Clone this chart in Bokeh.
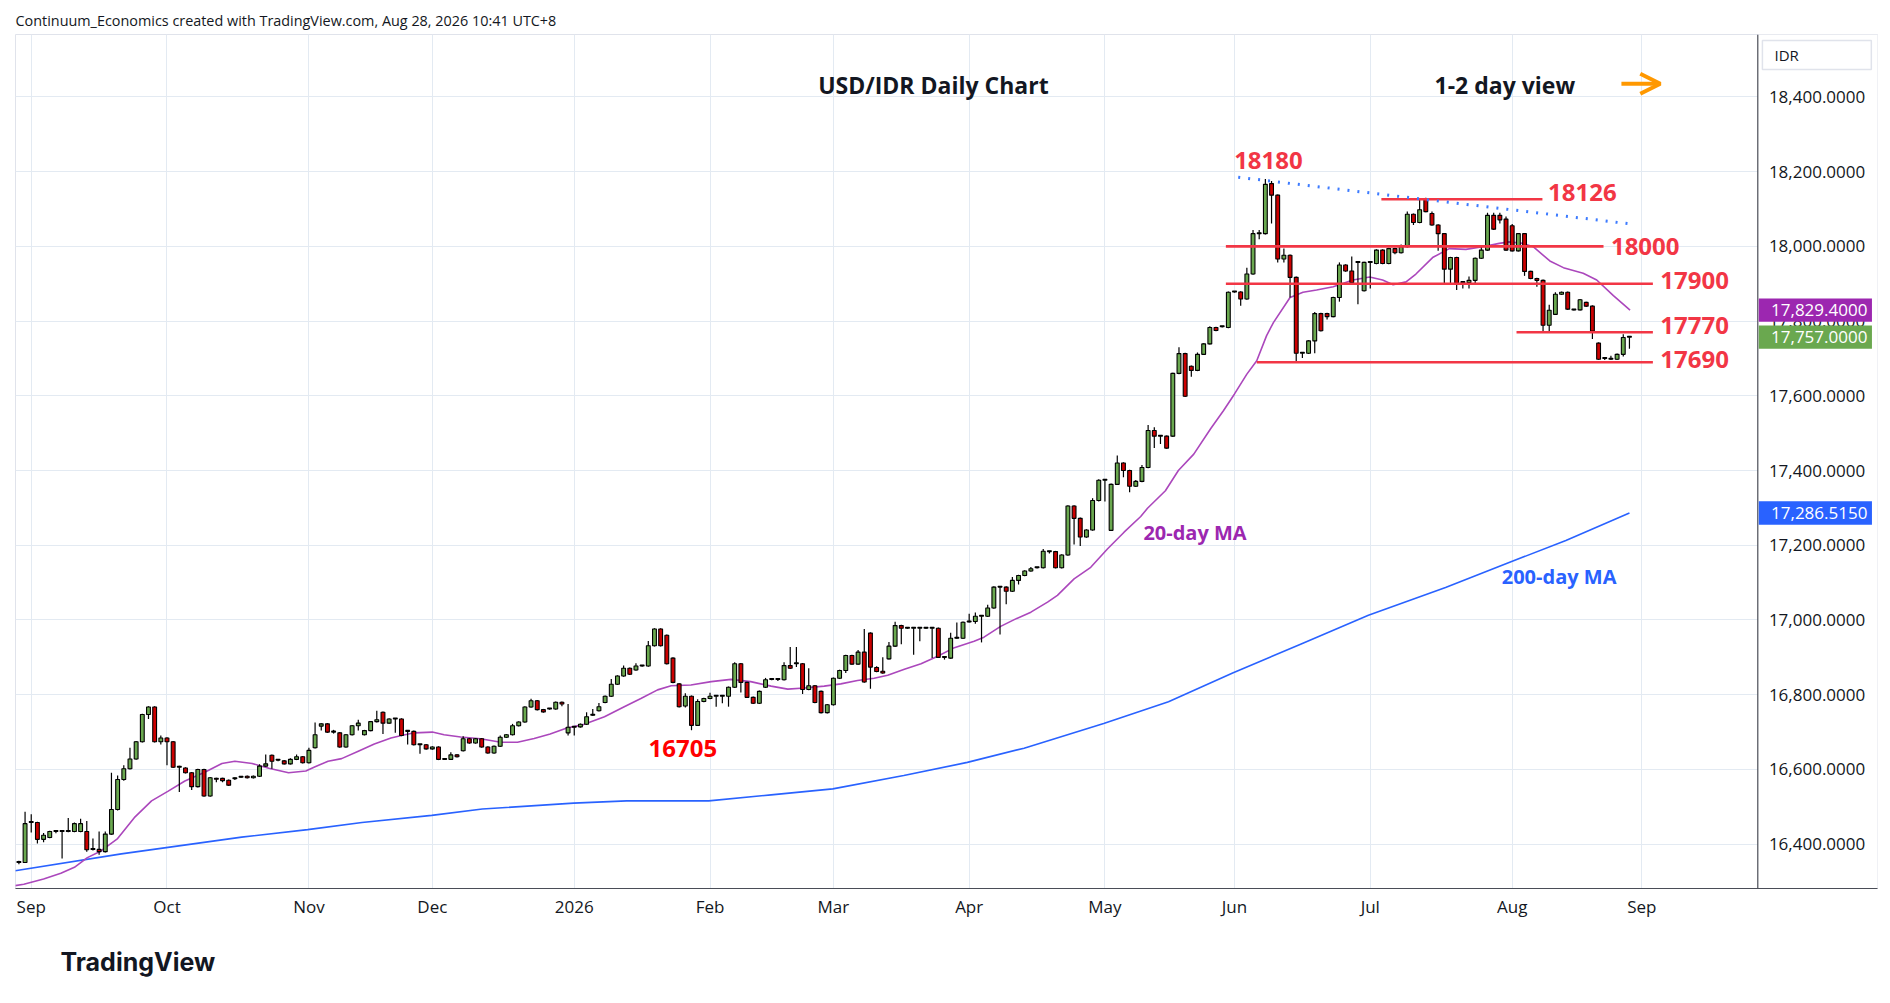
import numpy as np
import pandas as pd
from bokeh.plotting import figure
from bokeh.models import (ColumnDataSource, FixedTicker, Label, Arrow, OpenHead,
                          Title, Grid)
from bokeh.core.properties import value
from bokeh.embed import file_html
from bokeh.resources import INLINE

# ---------------- data ----------------
first_day = "2025-08-28"
opens = [16351,16351,16458,16458,16413,16418,16434,16434,16434,16434,
         16434,16434,16386,16386,16380,16427,16493,16573,16602,16628,
         16674,16747,16767,16674,16684,16674,16606,16604,16591,16554,
         16600,16529,16576,16576,16571,16575,16579,16582,16578,16582,
         16609,16638,16625,16623,16615,16627,16634,16618,16658,16716,
         16722,16700,16698,16660,16693,16717,16693,16704,16728,16753,
         16724,16735,16735,16702,16702,16666,16666,16655,16660,16627,
         16627,16639,16650,16682,16671,16682,16660,16644,16662,16686,
         16693,16717,16727,16767,16784,16760,16762,16762,16780,16698,
         16713,16714,16721,16745,16757,16779,16796,16828,16850,16871,
         16866,16877,16877,16931,16976,16959,16898,16829,16770,16796,
         16718,16782,16790,16796,16796,16796,16820,16883,16833,16793,
         16777,16820,16841,16841,16840,16878,16883,16883,16814,16824,
         16809,16752,16773,16844,16865,16905,16882,16914,16965,16873,
         16863,16896,16930,16985,16978,16978,16978,16978,16978,16978,
         16900,16898,16951,16951,16995,16996,17010,17010,17032,17088,
         17088,17077,17106,17119,17131,17140,17140,17183,17183,17140,
         17174,17305,17272,17222,17241,17320,17374,17240,17363,17420,
         17400,17358,17371,17408,17507,17492,17492,17492,17660,17713,
         17679,17668,17711,17739,17783,17785,17783,17878,17878,17859,
         17926,18034,18034,18168,18137,17966,17976,17917,17714,17714,
         17747,17820,17820,17812,17863,17950,17934,17957,17881,17957,
         17954,17990,17954,17994,17983,17999,18086,18064,18126,18088,
         18057,18034,17939,17970,17903,17903,17909,17968,17990,18083,
         18083,18073,18055,17988,18034,17933,17914,17909,17789,17818,
         17872,17877,17830,17830,17850,17840,17741,17700,17698,17698,
         17711,17757]
highs = [16356,16487,16480,16460,16430,16436,16436,16436,16470,16458,
         16468,16462,16415,16434,16434,16591,16584,16611,16658,16676,
         16749,16769,16769,16691,16686,16676,16610,16606,16593,16602,
         16602,16580,16578,16578,16573,16579,16582,16584,16584,16614,
         16640,16640,16628,16625,16630,16640,16636,16658,16726,16724,
         16724,16706,16700,16695,16719,16733,16706,16730,16757,16755,
         16737,16737,16737,16704,16704,16668,16668,16662,16662,16629,
         16646,16641,16689,16684,16684,16684,16662,16664,16691,16695,
         16722,16729,16769,16789,16786,16762,16764,16782,16782,16775,
         16716,16723,16753,16762,16778,16798,16842,16852,16878,16873,
         16884,16879,16944,16978,16978,16961,16900,16831,16804,16798,
         16788,16792,16805,16798,16798,16822,16887,16885,16835,16795,
         16811,16845,16843,16843,16887,16928,16928,16885,16871,16826,
         16811,16775,16846,16867,16907,16907,16920,16976,16967,16876,
         16900,16941,16995,16987,16980,16980,16980,16980,16980,16980,
         16902,16966,16993,16996,17017,17020,17012,17041,17090,17090,
         17090,17115,17121,17133,17142,17142,17190,17185,17185,17176,
         17307,17307,17274,17243,17326,17377,17376,17365,17440,17422,
         17402,17375,17415,17522,17516,17494,17494,17662,17730,17715,
         17681,17716,17741,17786,17785,17787,17879,17880,17880,17943,
         18044,18044,18180,18175,18139,17994,17978,17919,17716,17749,
         17824,17822,17822,17865,17957,17952,17973,17959,17959,17959,
         17992,17992,17996,17996,18005,18093,18088,18126,18130,18093,
         18059,18036,17972,17972,17905,17919,17970,17999,18090,18090,
         18090,18080,18060,18036,18036,17935,17916,17911,17844,17877,
         17879,17879,17832,17859,17852,17842,17743,17702,17707,17713,
         17765,17757]
lows = [16346,16350,16431,16402,16405,16416,16429,16362,16432,16432,
        16432,16380,16383,16372,16378,16425,16490,16570,16600,16626,
        16672,16735,16672,16667,16611,16604,16540,16589,16545,16552,
        16527,16527,16566,16566,16556,16572,16577,16576,16576,16580,
        16607,16602,16622,16613,16613,16625,16616,16616,16656,16704,
        16698,16696,16658,16658,16691,16704,16691,16702,16726,16695,
        16722,16698,16689,16667,16664,16642,16653,16653,16625,16625,
        16625,16632,16648,16669,16669,16658,16642,16642,16660,16684,
        16691,16715,16725,16765,16758,16752,16760,16760,16769,16691,
        16691,16712,16719,16743,16755,16777,16794,16826,16848,16853,
        16864,16875,16875,16929,16929,16881,16831,16766,16766,16705,
        16716,16780,16788,16768,16777,16768,16818,16806,16791,16775,
        16775,16818,16839,16837,16838,16869,16874,16802,16812,16777,
        16750,16750,16771,16842,16858,16880,16880,16832,16816,16860,
        16856,16894,16928,16935,16976,16907,16943,16976,16898,16898,
        16894,16896,16949,16949,16993,16990,16940,17008,17030,16961,
        17042,17075,17095,17117,17129,17138,17138,17178,17138,17138,
        17172,17202,17198,17220,17239,17317,17317,17238,17361,17382,
        17342,17356,17369,17406,17460,17471,17458,17490,17658,17597,
        17651,17666,17709,17737,17773,17783,17781,17876,17841,17857,
        17924,18019,18032,18061,17957,17957,17863,17691,17701,17712,
        17714,17772,17804,17810,17852,17932,17901,17845,17879,17887,
        17952,17952,17952,17979,17981,17997,18057,18062,18091,18055,
        17988,17901,17901,17883,17887,17887,17901,17966,17988,18044,
        18061,17988,17986,17986,17921,17912,17892,17771,17771,17816,
        17870,17830,17828,17828,17838,17752,17696,17696,17696,17696,
        17705,17726]
closes = [16351,16455,16458,16413,16424,16434,16434,16434,16434,16455,
          16455,16385,16386,16380,16427,16493,16573,16602,16628,16674,
          16747,16767,16674,16684,16674,16606,16606,16591,16554,16600,
          16529,16578,16574,16570,16558,16575,16579,16578,16582,16609,
          16615,16622,16625,16615,16627,16634,16618,16651,16693,16722,
          16700,16700,16660,16693,16717,16724,16704,16728,16733,16724,
          16735,16735,16691,16702,16666,16666,16655,16660,16627,16627,
          16639,16634,16682,16671,16682,16660,16644,16662,16686,16693,
          16717,16727,16767,16784,16760,16754,16762,16780,16775,16713,
          16714,16721,16741,16745,16768,16796,16828,16850,16871,16855,
          16877,16877,16931,16976,16931,16883,16833,16768,16796,16718,
          16782,16790,16796,16796,16796,16820,16883,16833,16793,16777,
          16809,16840,16841,16841,16878,16871,16883,16814,16824,16779,
          16752,16773,16844,16865,16905,16882,16914,16834,16874,16862,
          16858,16930,16985,16978,16978,16978,16978,16978,16978,16900,
          16900,16951,16951,16994,16995,17010,17010,17032,17088,17088,
          17077,17106,17119,17131,17137,17140,17184,17183,17140,17174,
          17305,17272,17222,17241,17320,17374,17374,17363,17420,17400,
          17358,17371,17408,17507,17492,17492,17460,17660,17713,17599,
          17668,17711,17739,17783,17775,17785,17877,17878,17859,17926,
          18034,18034,18166,18137,17966,17976,17917,17714,17714,17747,
          17820,17774,17812,17863,17950,17934,17903,17957,17957,17957,
          17990,17954,17994,17983,17999,18086,18064,18098,18093,18057,
          18034,17939,17970,17901,17903,17909,17968,17990,18083,18046,
          18071,17990,17988,18034,17933,17914,17909,17789,17829,17872,
          17877,17832,17830,17857,17840,17773,17698,17700,17698,17711,
          17756,17757]

# 20-day and 200-day moving averages (bar position from Sep 1 2025, value)
ma20_x = [-2.6, -1.2, 2, 4.8, 7, 9.1, 11.3, 14, 16.7, 19.5, 22.2, 24.9, 28.2,
          30.9, 33, 35.8, 38.5, 41.7, 44.5, 46, 48.1, 50.3, 53, 55.6, 58.3, 60,
          62.1, 65, 66.9, 69.6, 72.8, 76.1, 78.8, 81.5, 84.1, 86.8, 89.5, 92.9,
          96.1, 98.8, 101.5, 103.7, 106.9, 110.2, 113.4, 116.6, 119.9, 122.6,
          125.3, 128.5, 131.2, 133.9, 136.6, 138.8, 141.5, 144.2, 146.9, 149.6,
          152.8, 154.4, 157.1, 159.3, 162, 164.7, 166.3, 169, 171.7, 174.4,
          177.1, 179.8, 180.9, 183.8, 185.9, 188.4, 191.1, 193.2, 195, 197,
          198.6, 200.2, 201.3, 204, 206.1, 208.3, 211, 214.2, 216.9, 219,
          220.7, 222.8, 224.4, 227.1, 229.8, 232.5, 235.2, 237.9, 239.5, 241.7,
          243.4, 246.1, 248.3, 251.5, 253.7, 256.4, 259.1]
ma20_y = [16289, 16293, 16307, 16322, 16338, 16364, 16382, 16415, 16471, 16516,
          16542, 16569, 16593, 16616, 16622, 16616, 16603, 16591, 16596, 16607,
          16622, 16629, 16649, 16668, 16684, 16691, 16698, 16700, 16693, 16687,
          16682, 16673, 16673, 16683, 16695, 16711, 16720, 16741, 16768, 16790,
          16813, 16824, 16826, 16835, 16841, 16835, 16823, 16815, 16818, 16823,
          16829, 16838, 16844, 16852, 16868, 16883, 16903, 16926, 16943, 16954,
          16983, 17001, 17021, 17048, 17066, 17110, 17141, 17190, 17235, 17277,
          17299, 17346, 17400, 17444, 17511, 17560, 17605, 17658, 17694, 17761,
          17796, 17863, 17877, 17883, 17892, 17910, 17918, 17910, 17897, 17905,
          17926, 17970, 17994, 17992, 17999, 18008, 18012, 18008, 17999, 17961,
          17943, 17928, 17910, 17868, 17829.4]
ma200_x = [-2.6, 14.6, 34.1, 44.8, 53.6, 64.9, 73.1, 87.9, 96.5, 109.8, 119.9,
           129.9, 141.4, 151.7, 160.9, 173.8, 184.3, 194.7, 205.8, 216.7, 229.2,
           239.7, 248.7, 259.0]
ma200_y = [16329, 16374, 16419, 16439, 16458, 16477, 16494, 16510, 16516, 16516,
           16532, 16548, 16584, 16619, 16657, 16723, 16781, 16858, 16936, 17013,
           17087, 17155, 17213, 17286.515]

month_labels = ["Sep", "Oct", "Nov", "Dec", "2026", "Feb", "Mar", "Apr",
                "May", "Jun", "Jul", "Aug", "Sep"]
price_ticks = [16400, 16600, 16800, 17000, 17200, 17400, 17600, 17800,
               18000, 18200, 18400]

levels = [18126, 18000, 17900, 17770, 17690]
level_x0 = [218.8, 193.6, 193.6, 240.7, 198.6]
level_x1 = [244.9, 254.8, 262.8, 262.8, 262.8]
trend_x = [195.6, 259.2]
trend_y = [18185, 18060]

last_close = 17757.0
ma20_last = 17829.4
ma200_last = 17286.515

# ---------------- derived ----------------
days = pd.bdate_range(first_day, periods=len(opens))
start = list(days).index(pd.Timestamp("2025-09-01"))
xs = np.arange(len(opens)) - start
all_days = pd.bdate_range(first_day, "2026-09-30")
firsts = all_days.to_series().groupby([all_days.year, all_days.month]).min()
tick_pos = [int(list(all_days).index(d)) - start for d in firsts
            if d >= pd.Timestamp("2025-09-01")]

o = np.array(opens, float); c = np.array(closes, float)
bot = np.minimum(o, c)
top = np.maximum(np.maximum(o, c), bot + 2.5)
colors = np.where(c >= o, "#6aa84f", "#cc0000")
src = ColumnDataSource(dict(x=xs, bot=bot, top=top, hi=highs, lo=lows, color=colors))

GREEN = "#6aa84f"; RED = "#f23645"; PURPLE = "#ab47bc"; BLUE = "#2962ff"
FONT = "Open Sans"
AX_X = 279.8          # price-scale line (bar units)
XR = (-2.55, 299.2)
YR = (16281.4, 18567.0)

p = figure(width=1880, height=1002, x_range=XR, y_range=YR,
           output_backend="svg", toolbar_location=None, y_axis_location=None,
           min_border_left=15, min_border_right=3, min_border_top=34, min_border_bottom=114)
p.background_fill_color = "white"
p.border_fill_color = "white"
p.outline_line_color = "#e0e3eb"

# attribution line (top) and logo text (bottom)
p.title.text = "Continuum_Economics created with TradingView.com, Aug 28, 2026 10:41 UTC+8"
p.title.align = "left"
p.title.offset = 0
p.title.standoff = 9
p.title.text_font = FONT
p.title.text_font_size = "14.4px"
p.title.text_font_style = "normal"
p.title.text_color = "#131722"

# x axis
p.xaxis.ticker = FixedTicker(ticks=tick_pos)
p.xaxis.major_label_overrides = {t: l for t, l in zip(tick_pos, month_labels)}
p.xaxis.major_tick_line_color = None
p.xaxis.minor_tick_line_color = None
p.xaxis.major_tick_out = 0
p.xaxis.major_tick_in = 0
p.xaxis.axis_line_color = "#4a4d57"
p.xaxis.major_label_text_font = FONT
p.xaxis.major_label_text_font_size = "17px"
p.xaxis.major_label_text_color = "#131722"
p.xaxis.major_label_standoff = 6
p.add_layout(Title(text="TradingView", align="left", offset=45, standoff=48,
                   text_font="Inter", text_font_size="25px", text_font_style="bold",
                   text_color="#131722"), "below")

GRID = "#e3eaf2"
p.xgrid.grid_line_color = GRID
if len(p.ygrid) == 0:
    p.add_layout(Grid(dimension=1, ticker=FixedTicker(ticks=price_ticks),
                      grid_line_color=GRID), "center")
else:
    p.ygrid.ticker = FixedTicker(ticks=price_ticks)
    p.ygrid.grid_line_color = GRID

# moving averages
p.line(ma200_x, ma200_y, line_color=BLUE, line_width=1.6)
p.line(ma20_x, ma20_y, line_color=PURPLE, line_width=1.6)

# candles
p.segment(x0="x", y0="lo", x1="x", y1="hi", source=src, line_color="black", line_width=1.2)
p.vbar(x="x", width=0.62, bottom="bot", top="top", source=src,
       fill_color="color", line_color="black", line_width=1.1)

# levels & trend
p.segment(x0=level_x0, y0=levels, x1=level_x1, y1=levels, line_color=RED, line_width=2.6)
p.line(trend_x, trend_y, line_color="#3d7bff", line_width=3, line_dash="2 8")

def lab(x, y, text, size, color, align="left", bold=False):
    p.add_layout(Label(x=x, y=y, text=text, text_font=FONT, text_font_size=size,
                       text_color=color, text_align=align, text_baseline="middle",
                       text_font_style="bold" if bold else "normal"))

lab(200.5, 18229, "18180", "24px", RED, "center", True)
lab(245.8, 18145, "18126", "24px", RED, bold=True)
lab(256.0, 18000, "18000", "24px", RED, bold=True)
lab(264.0, 17908, "17900", "24px", RED, bold=True)
lab(264.0, 17787, "17770", "24px", RED, bold=True)
lab(264.0, 17697, "17690", "24px", RED, bold=True)
lab(105.6, 16655, "16705", "24px", "#ff0000", "center", True)
lab(188.6, 17235, "20-day MA", "20px", "#9c27b0", "center", True)
lab(247.6, 17116, "200-day MA", "20px", BLUE, "center", True)
lab(146.2, 18432, "USD/IDR Daily Chart", "23px", "#131722", "center", True)
lab(238.8, 18432, "1-2 day view", "23px", "#131722", "center", True)
p.add_layout(Arrow(end=OpenHead(size=20, line_color="#ff9800", line_width=4),
                   x_start=257.7, y_start=18435, x_end=264.0, y_end=18435,
                   line_color="#ff9800", line_width=4))

# ---------------- price scale column ----------------
p.quad(left=AX_X, right=XR[1] + 1, bottom=YR[0], top=YR[1],
       fill_color="white", line_color=None)
p.segment(x0=[AX_X], y0=[YR[0]], x1=[AX_X], y1=[YR[1]], line_color="#4a4d57", line_width=1.2)
p.quad(left=280.55, right=298.2, bottom=18473, top=18551, fill_color="white",
       line_color="#e0e3eb", line_width=1.5)
p.text(x=[282.5], y=[18512], text=["IDR"], text_font=value(FONT), text_font_size="15px",
       text_color="#131722", text_baseline="middle")
p.text(x=[281.6] * len(price_ticks), y=price_ticks,
       text=[f"{t:,.4f}" for t in price_ticks], text_font=value(FONT),
       text_font_size="17px", text_color="#131722", text_baseline="middle")

tag_vals = [ma20_last, last_close, ma200_last]
tag_cols = ["#9c27b0", GREEN, BLUE]
half = 31.3
p.quad(left=[279.96] * 3, right=[298.3] * 3, bottom=[v - half for v in tag_vals],
       top=[v + half for v in tag_vals], fill_color=tag_cols, line_color=None)
p.text(x=[281.95] * 3, y=tag_vals, text=[f"{v:,.4f}" for v in tag_vals],
       text_font=value(FONT), text_font_size="17px", text_color="white",
       text_baseline="middle")

open("out.html", "w").write(file_html(p, INLINE))
